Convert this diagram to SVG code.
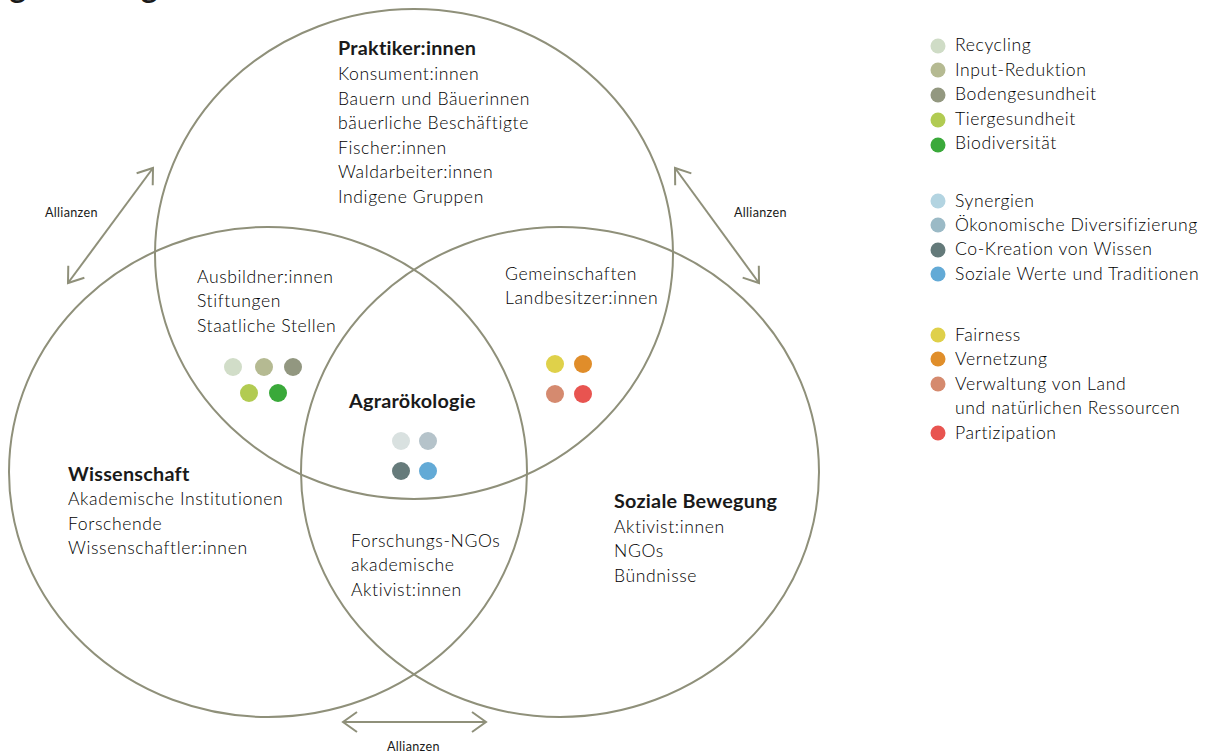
<svg xmlns="http://www.w3.org/2000/svg" width="1205" height="753" viewBox="0 0 1205 753">
  <style>
    text { font-family: Lato, "Open Sans", "Liberation Sans", sans-serif; fill: #1a1a1a; }
    .body { font-size: 17.6px; font-weight: 300; letter-spacing: 0.6px; fill: #000000; }
    .head { font-size: 19.8px; font-weight: 700; letter-spacing: 0.25px; }
    .small { font-size: 12.6px; font-weight: 400; letter-spacing: 0.3px; }
    .title { font-size: 31px; font-weight: 700; }
    .set { fill: none; stroke: #8f907a; stroke-width: 2; }
    .link { fill: none; stroke: #8f907a; stroke-width: 2; }
  </style>
  <defs>
    <marker id="chev" markerUnits="userSpaceOnUse" markerWidth="20" markerHeight="24" refX="16" refY="12" orient="auto-start-reverse" viewBox="0 0 20 24">
      <path d="M2,2 L16,12 L2,22" fill="none" stroke="#8f907a" stroke-width="2"/>
    </marker>
  </defs>
  <rect width="1205" height="753" fill="#ffffff"/>

  <text class="title" x="-12" y="-2">Agrarökologie</text>

  <!-- three overlapping sets -->
  <g id="set-praktiker">
    <ellipse class="set" cx="414" cy="254" rx="259" ry="245"/>
    <text class="head" x="338" y="55">Praktiker:innen</text>
    <text class="body" x="338" y="80">Konsument:innen</text>
    <text class="body" x="338" y="105">Bauern und Bäuerinnen</text>
    <text class="body" x="338" y="129">bäuerliche Beschäftigte</text>
    <text class="body" x="338" y="154">Fischer:innen</text>
    <text class="body" x="338" y="178">Waldarbeiter:innen</text>
    <text class="body" x="338" y="203">Indigene Gruppen</text>
  </g>
  <g id="set-wissenschaft">
    <ellipse class="set" cx="268" cy="472" rx="259" ry="245"/>
    <text class="head" x="68" y="481">Wissenschaft</text>
    <text class="body" x="68" y="505">Akademische Institutionen</text>
    <text class="body" x="68" y="530">Forschende</text>
    <text class="body" x="68" y="554">Wissenschaftler:innen</text>
  </g>
  <g id="set-bewegung">
    <ellipse class="set" cx="560" cy="472" rx="259" ry="245"/>
    <text class="head" x="614" y="508">Soziale Bewegung</text>
    <text class="body" x="614" y="533">Aktivist:innen</text>
    <text class="body" x="614" y="557">NGOs</text>
    <text class="body" x="614" y="582">Bündnisse</text>
  </g>

  <!-- overlaps -->
  <g id="overlap-praktiker-wissenschaft">
    <text class="body" x="197" y="283">Ausbildner:innen</text>
    <text class="body" x="197" y="307">Stiftungen</text>
    <text class="body" x="197" y="332">Staatliche Stellen</text>
    <circle cx="233" cy="367" r="9" fill="#d1ddc8"/>
    <circle cx="264" cy="367" r="9" fill="#b5ba92"/>
    <circle cx="293" cy="367" r="9" fill="#929780"/>
    <circle cx="249" cy="393" r="9" fill="#b2cb52"/>
    <circle cx="278" cy="393" r="9" fill="#3aa93a"/>
  </g>
  <g id="overlap-praktiker-bewegung">
    <text class="body" x="505" y="280">Gemeinschaften</text>
    <text class="body" x="505" y="304">Landbesitzer:innen</text>
    <circle cx="555" cy="364" r="9" fill="#dfd14a"/>
    <circle cx="583" cy="364" r="9" fill="#e08d2a"/>
    <circle cx="555" cy="394" r="9" fill="#d58a6f"/>
    <circle cx="583" cy="394" r="9" fill="#e85450"/>
  </g>
  <g id="overlap-wissenschaft-bewegung">
    <text class="body" x="351" y="547">Forschungs-NGOs</text>
    <text class="body" x="351" y="571">akademische</text>
    <text class="body" x="351" y="596">Aktivist:innen</text>
  </g>
  <g id="center-agraroekologie">
    <text class="head" x="349" y="408">Agrarökologie</text>
    <circle cx="401" cy="441" r="9" fill="#d9e1e0"/>
    <circle cx="428" cy="441" r="9" fill="#b5c3ca"/>
    <circle cx="401" cy="471" r="9" fill="#667b7b"/>
    <circle cx="428" cy="471" r="9" fill="#63aad6"/>
  </g>

  <!-- alliance connectors -->
  <g id="connectors">
    <line class="link" x1="153" y1="168" x2="68" y2="283" marker-start="url(#chev)" marker-end="url(#chev)"/>
    <line class="link" x1="675" y1="168" x2="759" y2="283" marker-start="url(#chev)" marker-end="url(#chev)"/>
    <line class="link" x1="343" y1="722" x2="486" y2="722" marker-start="url(#chev)" marker-end="url(#chev)"/>
    <text class="small" x="45" y="217">Allianzen</text>
    <text class="small" x="734" y="217">Allianzen</text>
    <text class="small" x="387" y="751">Allianzen</text>
  </g>

  <!-- legend -->
  <g id="legend-oekologisch">
    <circle cx="938" cy="46" r="7.5" fill="#cfdcc6"/>
    <text class="body" x="955" y="51">Recycling</text>
    <circle cx="938" cy="70" r="7.5" fill="#b5ba92"/>
    <text class="body" x="955" y="76">Input-Reduktion</text>
    <circle cx="938" cy="95" r="7.5" fill="#939880"/>
    <text class="body" x="955" y="100">Bodengesundheit</text>
    <circle cx="938" cy="120" r="7.5" fill="#b1cb52"/>
    <text class="body" x="955" y="125">Tiergesundheit</text>
    <circle cx="938" cy="145" r="7.5" fill="#3aa93a"/>
    <text class="body" x="955" y="149">Biodiversität</text>
  </g>
  <g id="legend-sozial">
    <circle cx="938" cy="201" r="7.5" fill="#b3d4e1"/>
    <text class="body" x="955" y="207">Synergien</text>
    <circle cx="938" cy="225" r="7.5" fill="#9bbac6"/>
    <text class="body" x="955" y="231">Ökonomische Diversifizierung</text>
    <circle cx="938" cy="250" r="7.5" fill="#647a7a"/>
    <text class="body" x="955" y="255">Co-Kreation von Wissen</text>
    <circle cx="938" cy="274" r="7.5" fill="#63aad6"/>
    <text class="body" x="955" y="280">Soziale Werte und Traditionen</text>
  </g>
  <g id="legend-politisch">
    <circle cx="938" cy="335" r="7.5" fill="#dfd04a"/>
    <text class="body" x="955" y="341">Fairness</text>
    <circle cx="938" cy="359" r="7.5" fill="#e08e2a"/>
    <text class="body" x="955" y="365">Vernetzung</text>
    <circle cx="938" cy="384" r="7.5" fill="#d58a6e"/>
    <text class="body" x="955" y="390">Verwaltung von Land</text>
    <text class="body" x="955" y="414">und natürlichen Ressourcen</text>
    <circle cx="938" cy="433" r="7.5" fill="#e85450"/>
    <text class="body" x="955" y="439">Partizipation</text>
  </g>
</svg>
